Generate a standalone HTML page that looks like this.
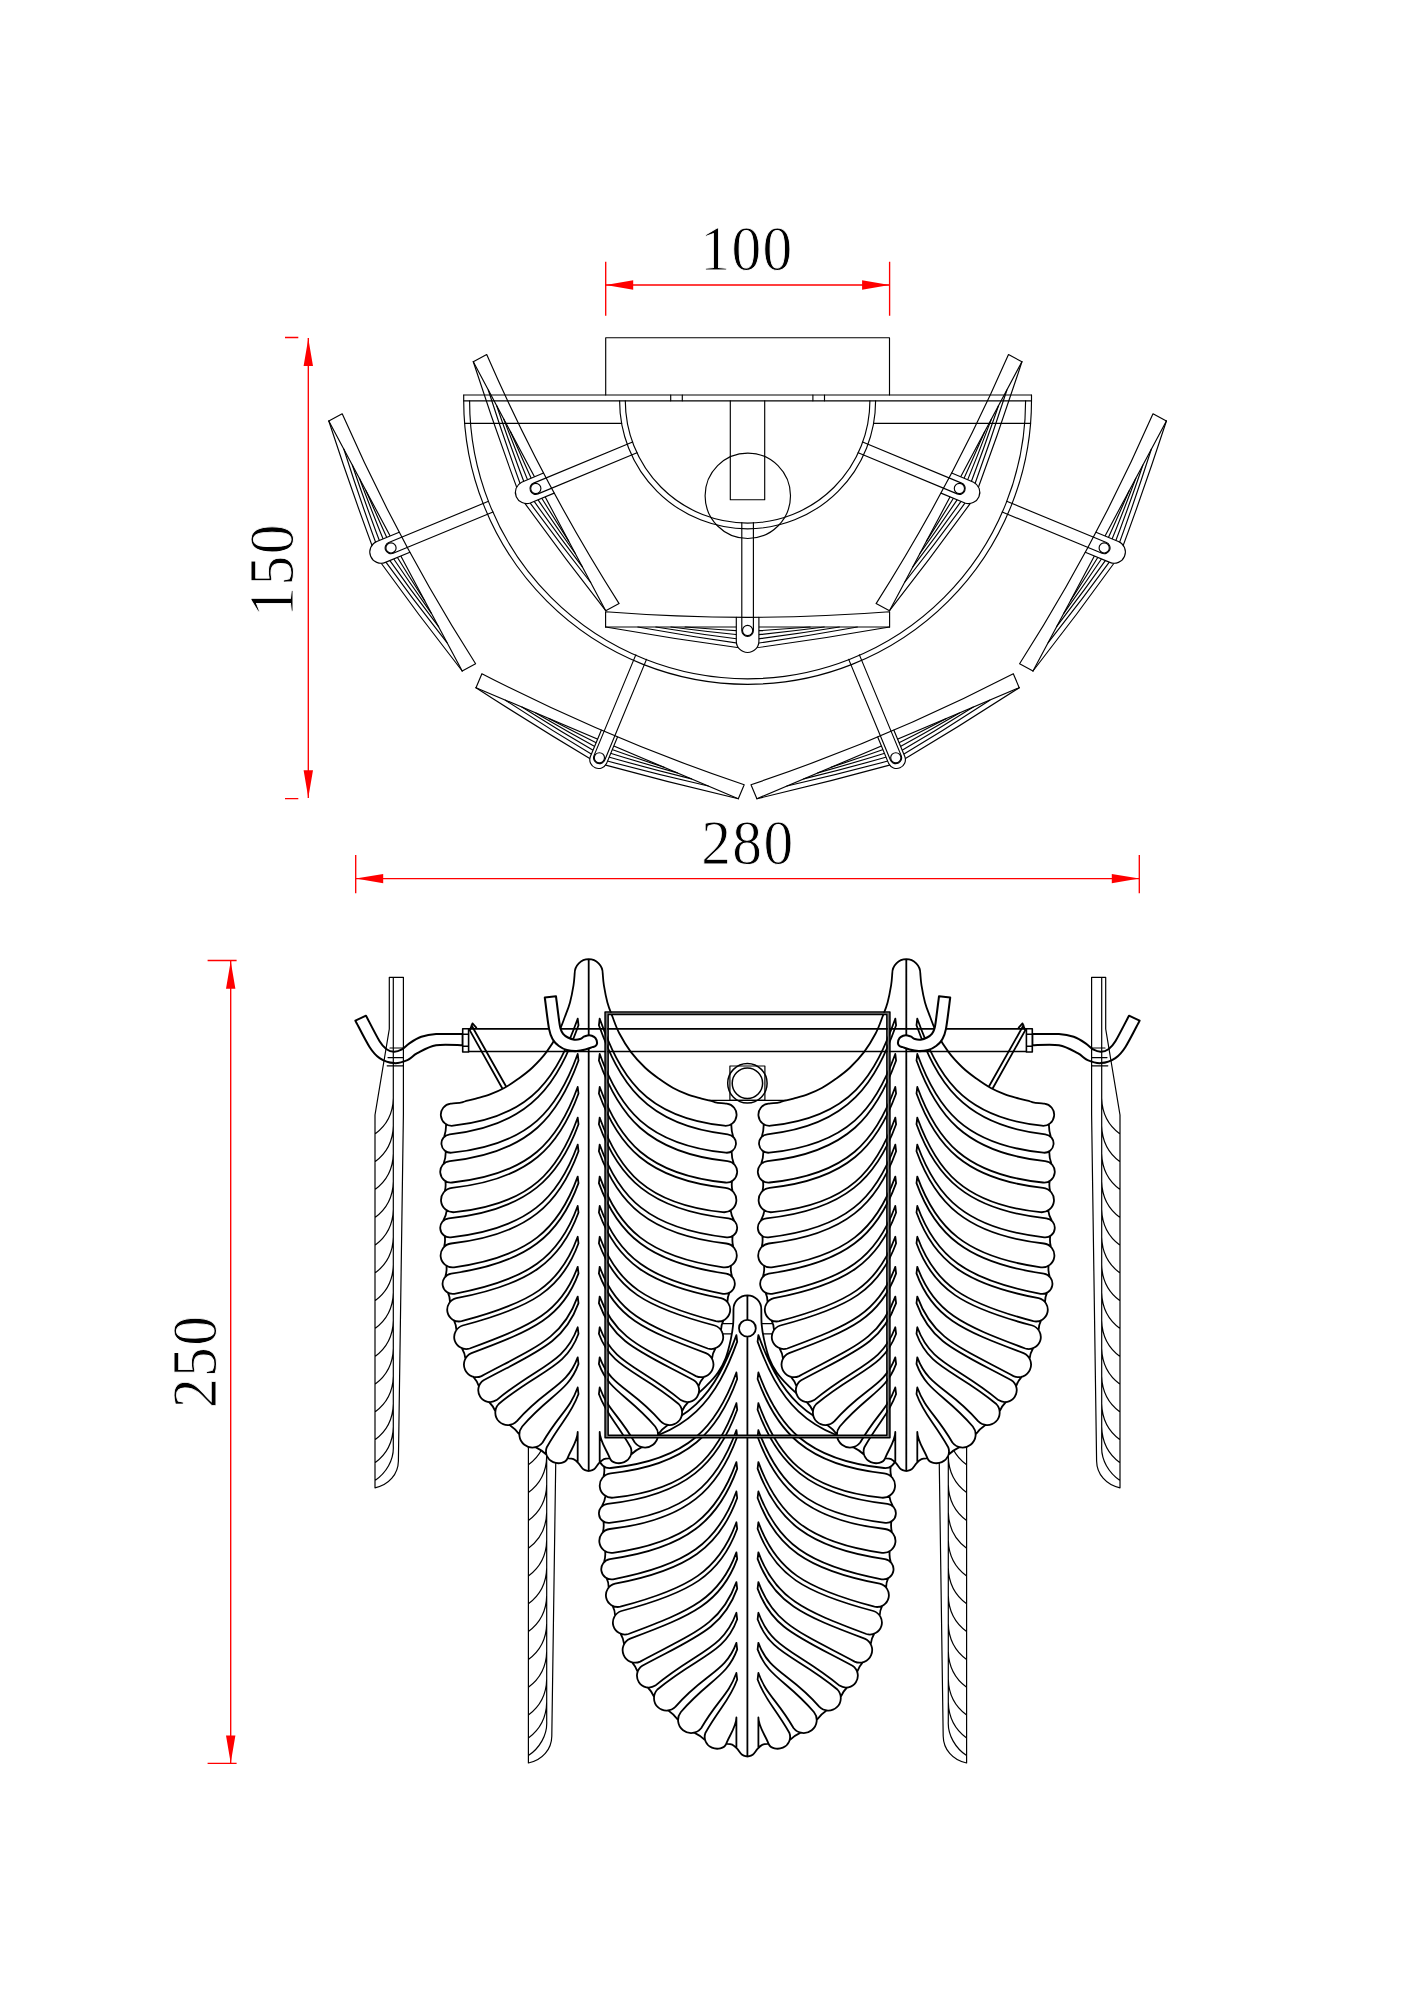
<!DOCTYPE html>
<html lang="en"><head><meta charset="utf-8"><title>Wall lamp drawing</title>
<style>html,body{margin:0;padding:0;background:#fff}svg{display:block}</style></head>
<body>
<svg width="1413" height="2000" viewBox="0 0 1413 2000">
<rect width="1413" height="2000" fill="#fff"/>
<g stroke="#000" stroke-width="1.15" stroke-linejoin="round" stroke-linecap="round">
<path d="M366 490.8Q378.5 519.4 391.4 547.7Q407.8 574.4 424.7 600.8M359.4 478.3Q372.9 514.3 387.5 549.8Q408.9 581.8 431.4 613.3M352.3 465Q367.2 508.9 383.6 551.8Q410.3 589.7 438.6 626.7M343.9 449.2Q360.8 502.1 379.8 553.9Q412.3 598.8 447 642.6M328.8 421Q351 489.2 375.9 556Q417.7 614.2 462.2 671" fill="none"/>
<path d="M328.8 421L462.2 671" fill="none"/>
<path d="M399.2 532.3L376.8 541.5A11.3 11.3 0 0 0 385.4 562.4L409.9 552.3" fill="#fff"/>
<path d="M328.8 421L342.2 413.8Q399.2 544 475.6 663.8L462.2 671" fill="none"/>
<path d="M488.5 501.3L388.8 542.5A5.8 5.8 0 0 0 393.2 553.3L493 512" fill="none"/>
<path d="M396.1 547.9A5.1 5.1 0 1 0 385.9 547.9A5.1 5.1 0 1 0 396.1 547.9" fill="none"/>
<path d="M1129.2 490.8Q1116.7 519.4 1103.8 547.7Q1087.4 574.4 1070.5 600.8M1135.8 478.3Q1122.3 514.3 1107.7 549.8Q1086.3 581.8 1063.8 613.3M1142.9 465Q1128 508.9 1111.6 551.8Q1084.9 589.7 1056.6 626.7M1151.3 449.2Q1134.4 502.1 1115.4 553.9Q1082.9 598.8 1048.2 642.6M1166.4 421Q1144.2 489.2 1119.3 556Q1077.5 614.2 1033 671" fill="none"/>
<path d="M1166.4 421L1033 671" fill="none"/>
<path d="M1085.3 552.3L1109.8 562.4A11.3 11.3 0 0 0 1118.4 541.5L1096 532.3" fill="#fff"/>
<path d="M1166.4 421L1153 413.8Q1096 544 1019.6 663.8L1033 671" fill="none"/>
<path d="M1002.2 512L1102 553.3A5.8 5.8 0 0 0 1106.4 542.5L1006.7 501.3" fill="none"/>
<path d="M1109.3 547.9A5.1 5.1 0 1 0 1099.1 547.9A5.1 5.1 0 1 0 1109.3 547.9" fill="none"/>
<path d="M510.4 431.6Q522.8 460.2 535.8 488.5Q552 515 568.7 541.1M503.8 419.1Q517.3 455.1 531.9 490.6Q553.1 522.4 575.3 553.5M496.7 405.8Q511.6 449.6 528 492.7Q554.4 530.2 582.4 566.8M488.3 390Q505.2 442.9 524.1 494.7Q556.4 539.2 590.7 582.5M473.3 361.7Q495.4 429.9 520.2 496.8Q561.6 554.4 605.7 610.7" fill="none"/>
<path d="M473.3 361.7L605.7 610.7" fill="none"/>
<path d="M543.5 473L521.6 482.2A11.3 11.3 0 0 0 530.3 503L554.2 493.1" fill="#fff"/>
<path d="M473.3 361.7L486.7 354.6Q543.2 484.2 619.1 603.6L605.7 610.7" fill="none"/>
<path d="M632.6 442L533.6 483.1A5.8 5.8 0 0 0 538 493.9L637 452.7" fill="none"/>
<path d="M540.9 488.5A5.1 5.1 0 1 0 530.7 488.5A5.1 5.1 0 1 0 540.9 488.5" fill="none"/>
<path d="M984.8 431.6Q972.4 460.2 959.4 488.5Q943.2 515 926.5 541.1M991.4 419.1Q977.9 455.1 963.3 490.6Q942.1 522.4 919.9 553.5M998.5 405.8Q983.6 449.6 967.2 492.7Q940.8 530.2 912.8 566.8M1006.9 390Q990 442.9 971.1 494.7Q938.8 539.2 904.5 582.5M1021.9 361.7Q999.8 429.9 975 496.8Q933.6 554.4 889.5 610.7" fill="none"/>
<path d="M1021.9 361.7L889.5 610.7" fill="none"/>
<path d="M941 493.1L964.9 503A11.3 11.3 0 0 0 973.6 482.2L951.7 473" fill="#fff"/>
<path d="M1021.9 361.7L1008.5 354.6Q952 484.2 876.1 603.6L889.5 610.7" fill="none"/>
<path d="M858.2 452.7L957.2 493.9A5.8 5.8 0 0 0 961.6 483.1L862.6 442" fill="none"/>
<path d="M964.5 488.5A5.1 5.1 0 1 0 954.3 488.5A5.1 5.1 0 1 0 964.5 488.5" fill="none"/>
<path d="M548.7 718.5Q576.3 732.9 604.1 746.7Q634 757.3 664.1 767.3M535.7 713Q568.8 732.4 602.4 750.7Q639.6 762.4 677.4 772.9M521.9 707.1Q560.9 731.8 600.7 754.8Q645.7 767.7 691.5 778.9M505.4 700.2Q551.7 730.6 599 758.8Q653.1 773.5 708.3 786M476 687.7Q536 726.7 597.2 762.9Q667.2 782.2 738.3 798.7" fill="none"/>
<path d="M476 687.7L738.3 798.7" fill="none"/>
<path d="M601.3 730.2L590.3 756.8A8.8 8.8 0 0 0 606.5 763.6L617.5 737" fill="#fff"/>
<path d="M476 687.7L481.9 673.7Q608.8 739.3 744.2 784.7L738.3 798.7" fill="none"/>
<path d="M635.8 654.9L594 755.6A5.8 5.8 0 0 0 604.8 760L646.5 659.4" fill="none"/>
<path d="M604.5 757.8A5.1 5.1 0 1 0 594.3 757.8A5.1 5.1 0 1 0 604.5 757.8" fill="none"/>
<path d="M946.5 718.5Q918.9 732.9 891.1 746.7Q861.2 757.3 831.1 767.3M959.5 713Q926.4 732.4 892.8 750.7Q855.6 762.4 817.8 772.9M973.3 707.1Q934.3 731.8 894.5 754.8Q849.5 767.7 803.7 778.9M989.8 700.2Q943.5 730.6 896.2 758.8Q842.1 773.5 786.9 786M1019.2 687.7Q959.2 726.7 898 762.9Q828 782.2 756.9 798.7" fill="none"/>
<path d="M1019.2 687.7L756.9 798.7" fill="none"/>
<path d="M877.7 737L888.7 763.6A8.8 8.8 0 0 0 904.9 756.8L893.9 730.2" fill="#fff"/>
<path d="M1019.2 687.7L1013.3 673.7Q886.4 739.3 751 784.7L756.9 798.7" fill="none"/>
<path d="M848.7 659.4L890.4 760A5.8 5.8 0 0 0 901.2 755.6L859.4 654.9" fill="none"/>
<path d="M900.9 757.8A5.1 5.1 0 1 0 890.7 757.8A5.1 5.1 0 1 0 900.9 757.8" fill="none"/>
<path d="M685.1 627Q716.4 629.5 747.6 631.4Q778.8 629.5 810.1 627M670.9 627Q709.3 632 747.6 635.8Q785.9 632 824.3 627M655.8 627Q701.7 634.5 747.6 640.2Q793.5 634.5 839.4 627M637.8 627Q692.7 637 747.6 644.6Q802.5 637 857.4 627M605.6 627Q676.6 639.5 747.6 649Q818.6 639.5 889.6 627" fill="none"/>
<path d="M605.6 627L889.6 627" fill="none"/>
<path d="M736.3 617.3L736.3 641.2A11.3 11.3 0 0 0 758.9 641.2L758.9 617.3" fill="#fff"/>
<path d="M605.6 627L605.6 611.8Q747.6 622.8 889.6 611.8L889.6 627" fill="none"/>
<path d="M741.8 522.6L741.8 630.5A5.8 5.8 0 0 0 753.4 630.5L753.4 522.6" fill="none"/>
<path d="M752.7 630.5A5.1 5.1 0 1 0 742.5 630.5A5.1 5.1 0 1 0 752.7 630.5" fill="none"/>
<path d="M605.7 395V337.7H889.5V395" fill="none"/>
<path d="M463.7 395H1031.5M463.7 400.8H1031.5" fill="none"/>
<path d="M463.7 395V400.4A283.9 283.9 0 0 0 1031.5 400.4V395" fill="none"/>
<path d="M469.6 400.8A278 278 0 0 0 1025.6 400.8" fill="none"/>
<path d="M464.6 423.3H621.7M873.5 423.3H1030.6" fill="none"/>
<path d="M619.6 400.8A128 128 0 0 0 875.6 400.8M625.3 400.8A122.3 122.3 0 0 0 869.9 400.8" fill="none"/>
<path d="M670.7 395V400.8M682.3 395V400.8M812.9 395V400.8M824.5 395V400.8" fill="none"/>
<path d="M730.3 400.8V499.7H764.7V400.8" fill="none"/>
<path d="M790.5 495.8A42.7 42.7 0 1 0 705.1 495.8A42.7 42.7 0 1 0 790.5 495.8" fill="none"/>
</g>
<g stroke="#000" stroke-width="1.8" stroke-linejoin="round" stroke-linecap="round">
<path d="M471.5 1025.3L507.5 1089M469.8 1030.4L503.5 1090.5M469.8 1030.4L472.5 1023.4L476.3 1027.6" fill="none"/>
<path d="M471.5 1025.3L507.5 1089M469.8 1030.4L503.5 1090.5M469.8 1030.4L472.5 1023.4L476.3 1027.6" fill="none" transform="translate(1495,0) scale(-1,1)"/>
<path d="M712 1323.6H783M712 1333.8H783M708.9 1100.3H786.1" fill="none" stroke-width="1.3"/>
<path d="M542.7 1252.5H556.8M556.8 1252.5V1389.2L551.8 1736.2C551.6 1749.2 542.4 1760.2 528.4 1763M546.7 1252.5V1721.2C547.5 1735.2 539.4 1748.2 528.4 1755.6M542.7 1252.5V1304.2L528.4 1390.2V1763M546.7 1373.2Q546.2 1396.2 528.4 1409.2M546.7 1401Q546.2 1424 528.4 1437M546.7 1428.8Q546.2 1451.8 528.4 1464.8M546.7 1456.6Q546.2 1479.6 528.4 1492.6M546.7 1484.4Q546.2 1507.4 528.4 1520.4M546.7 1512.2Q546.2 1535.2 528.4 1548.2M546.7 1540Q546.2 1563 528.4 1576M546.7 1567.8Q546.2 1590.8 528.4 1603.8M546.7 1595.6Q546.2 1618.6 528.4 1631.6M546.7 1623.4Q546.2 1646.4 528.4 1659.4M546.7 1651.2Q546.2 1674.2 528.4 1687.2M546.7 1679Q546.2 1702 528.4 1715M546.7 1702Q546.2 1725 528.4 1738" fill="none" stroke-width="1.2"/>
<path d="M542.7 1252.5H556.8M556.8 1252.5V1389.2L551.8 1736.2C551.6 1749.2 542.4 1760.2 528.4 1763M546.7 1252.5V1721.2C547.5 1735.2 539.4 1748.2 528.4 1755.6M542.7 1252.5V1304.2L528.4 1390.2V1763M546.7 1373.2Q546.2 1396.2 528.4 1409.2M546.7 1401Q546.2 1424 528.4 1437M546.7 1428.8Q546.2 1451.8 528.4 1464.8M546.7 1456.6Q546.2 1479.6 528.4 1492.6M546.7 1484.4Q546.2 1507.4 528.4 1520.4M546.7 1512.2Q546.2 1535.2 528.4 1548.2M546.7 1540Q546.2 1563 528.4 1576M546.7 1567.8Q546.2 1590.8 528.4 1603.8M546.7 1595.6Q546.2 1618.6 528.4 1631.6M546.7 1623.4Q546.2 1646.4 528.4 1659.4M546.7 1651.2Q546.2 1674.2 528.4 1687.2M546.7 1679Q546.2 1702 528.4 1715M546.7 1702Q546.2 1725 528.4 1738" fill="none" stroke-width="1.2" transform="translate(1495,0) scale(-1,1)"/>
<path d="M733.5 1309.2L733.5 1309.3L733.5 1311L733.5 1313.4L733.4 1316.2L733.4 1319.2L733.3 1322.2L733.1 1324.9L732.9 1327.3L732.6 1329.7L732.2 1332L731.8 1334.3L731.4 1336.8L730.8 1339.4L730.1 1342.3L729.4 1345.4L728.6 1348.7L727.7 1352L726.7 1355.1L725.7 1358L724.6 1360.7L723.4 1363.2L722.2 1365.6L720.9 1368L719.5 1370.2L718 1372.5L716.4 1374.7L714.6 1377L712.7 1379.1L710.8 1381.2L708.9 1383.2L707 1385.2L705.2 1387.1L703.4 1388.8L701.6 1390.5L699.8 1392.1L697.7 1393.8L695.4 1395.5L692.9 1397.3L690.1 1399.1L687.2 1400.9L684.2 1402.7L680.9 1404.4L677.4 1406L673.6 1407.5L669.6 1409L665.3 1410.4L661 1411.7L656.6 1412.9L652.4 1414L648 1415L643.5 1415.9L638.9 1416.7L634.6 1417.4L630.6 1418L627.4 1418.5L625 1418.8L623.2 1418.9L621.9 1418.8L620.9 1418.7L619.7 1418.7L618.4 1418.7L616.7 1418.8L614.8 1419L612.8 1419.2L611 1419.4L609.5 1419.6L608.4 1419.8L608.4 1419.8L605.7 1420.5L603.2 1422L601.4 1424.2L600.3 1426.9L600.1 1429.8L600.8 1432.6L602.3 1435L604.5 1436.9L602.2 1449.5L600.6 1451.4L599.6 1453.6L599 1456L599 1458.4L599.5 1460.8L600.5 1463L602.1 1464.9L604 1466.5L603.5 1476.7L601.7 1478.8L600.4 1481.3L599.8 1484L599.8 1486.8L600.4 1489.5L601.6 1492L603.3 1494.2L605.5 1495.9L601.8 1506.4L600.4 1508.1L599.5 1510L599 1512.1L599 1514.3L599.4 1516.4L600.4 1518.4L601.7 1520.1L603.4 1521.4L602.8 1532.4L601.1 1534.5L600 1537L599.4 1539.6L599.4 1542.4L600 1545L601.2 1547.4L603 1549.5L605.1 1551.2L604 1562.2L602.7 1564.1L601.7 1566.2L601.3 1568.5L601.4 1570.8L602 1573L603.1 1575.1L604.7 1576.8L606.6 1578.1L608.6 1587.7L607.1 1589.9L606.2 1592.4L605.9 1595.1L606.2 1597.8L607 1600.3L608.5 1602.5L610.4 1604.4L612.6 1605.9L615.1 1615.6L613.8 1618L613 1620.6L612.9 1623.3L613.4 1626L614.5 1628.5L616.1 1630.7L618.2 1632.4L620.6 1633.7L624.1 1644.1L623.1 1646.8L622.6 1649.6L622.8 1652.4L623.7 1655.1L625.1 1657.6L627 1659.7L629.4 1661.3L632.1 1662.3L637.6 1671.8L637 1674.5L637 1677.1L637.7 1679.8L638.9 1682.2L640.6 1684.2L642.7 1685.9L645.1 1687L647.8 1687.5L654.1 1696.9L654.1 1699.7L654.8 1702.5L656.1 1705L657.9 1707.2L660.2 1708.9L662.7 1710L665.5 1710.6L668.3 1710.5L678.1 1720L678.4 1722.9L679.4 1725.7L681 1728.2L683.1 1730.2L685.6 1731.8L688.4 1732.7L691.3 1733L694.2 1732.6L705.1 1740.2L706.4 1743.1L708.5 1745.5L711.1 1747.3L714.1 1748.3L717.3 1748.4L720.4 1747.7L723.1 1746.2L725.4 1743.9L726.2 1743.9L726.2 1743.9L727.3 1744L728.9 1744L730.6 1744.2L732.2 1744.7L733.5 1745.5L734.8 1746.5L736.1 1747.7L737.3 1748.9L738.5 1750.4L739.7 1752L740.9 1753.6L742.1 1754.8L743.5 1755.6L745 1756L746.4 1756.3L747.4 1756.5L747.4 1756.5L748.4 1756.3L749.8 1756L751.3 1755.6L752.7 1754.8L753.9 1753.6L755.1 1752L756.3 1750.4L757.5 1748.9L758.7 1747.7L760 1746.5L761.3 1745.5L762.6 1744.7L764.2 1744.2L765.9 1744L767.5 1744L768.6 1743.9L768.6 1743.9L769.4 1743.9L771.7 1746.2L774.4 1747.7L777.5 1748.4L780.7 1748.3L783.7 1747.3L786.3 1745.5L788.4 1743.1L789.7 1740.2L800.6 1732.6L803.5 1733L806.4 1732.7L809.2 1731.8L811.7 1730.2L813.8 1728.2L815.4 1725.7L816.4 1722.9L816.7 1720L826.5 1710.5L829.3 1710.6L832.1 1710L834.6 1708.9L836.9 1707.2L838.7 1705L840 1702.5L840.7 1699.7L840.7 1696.9L847 1687.5L849.7 1687L852.1 1685.9L854.2 1684.2L855.9 1682.2L857.1 1679.8L857.8 1677.1L857.8 1674.5L857.2 1671.8L862.7 1662.3L865.4 1661.3L867.8 1659.7L869.7 1657.6L871.1 1655.1L872 1652.4L872.2 1649.6L871.7 1646.8L870.7 1644.1L874.2 1633.7L876.6 1632.4L878.7 1630.7L880.3 1628.5L881.4 1626L881.9 1623.3L881.8 1620.6L881 1618L879.7 1615.6L882.2 1605.9L884.4 1604.4L886.3 1602.5L887.8 1600.3L888.6 1597.8L888.9 1595.1L888.6 1592.4L887.7 1589.9L886.2 1587.7L888.2 1578.1L890.1 1576.8L891.7 1575.1L892.8 1573L893.4 1570.8L893.5 1568.5L893.1 1566.2L892.1 1564.1L890.8 1562.2L889.7 1551.2L891.8 1549.5L893.6 1547.4L894.8 1545L895.4 1542.4L895.4 1539.6L894.8 1537L893.7 1534.5L892 1532.4L891.4 1521.4L893.1 1520.1L894.4 1518.4L895.4 1516.4L895.8 1514.3L895.8 1512.1L895.3 1510L894.4 1508.1L893 1506.4L889.3 1495.9L891.5 1494.2L893.2 1492L894.4 1489.5L895 1486.8L895 1484L894.4 1481.3L893.1 1478.8L891.3 1476.7L890.8 1466.5L892.7 1464.9L894.3 1463L895.3 1460.8L895.8 1458.4L895.8 1456L895.2 1453.6L894.2 1451.4L892.6 1449.5L890.3 1436.9L892.5 1435L894 1432.6L894.7 1429.8L894.5 1426.9L893.4 1424.2L891.6 1422L889.1 1420.5L886.4 1419.8L886.4 1419.8L885.3 1419.6L883.8 1419.4L882 1419.2L880 1419L878.1 1418.8L876.4 1418.7L875.1 1418.7L873.9 1418.7L872.9 1418.8L871.6 1418.9L869.8 1418.8L867.4 1418.5L864.2 1418L860.2 1417.4L855.9 1416.7L851.3 1415.9L846.8 1415L842.4 1414L838.2 1412.9L833.8 1411.7L829.5 1410.4L825.2 1409L821.2 1407.5L817.4 1406L813.9 1404.4L810.6 1402.7L807.6 1400.9L804.7 1399.1L801.9 1397.3L799.4 1395.5L797.1 1393.8L795 1392.1L793.2 1390.5L791.4 1388.8L789.6 1387.1L787.8 1385.2L785.9 1383.2L784 1381.2L782.1 1379.1L780.2 1377L778.4 1374.7L776.8 1372.5L775.3 1370.2L773.9 1368L772.6 1365.6L771.4 1363.2L770.2 1360.7L769.1 1358L768.1 1355.1L767.1 1352L766.2 1348.7L765.4 1345.4L764.7 1342.3L764 1339.4L763.4 1336.8L763 1334.3L762.6 1332L762.2 1329.7L761.9 1327.3L761.7 1324.9L761.5 1322.2L761.4 1319.2L761.4 1316.2L761.3 1313.4L761.3 1311L761.3 1309.3L761.3 1309.2A13.9 13.9 0 0 0 733.5 1309.2Z" fill="#fff" stroke="none"/>
<path d="M733.5 1309.3C733.4 1311.9 733.6 1319.9 733.1 1324.9C732.6 1329.9 732 1333.9 730.8 1339.4C729.6 1344.9 727.8 1352.5 725.7 1358C723.6 1363.5 721.1 1368 718 1372.5C714.9 1377 710.8 1381.4 707 1385.2C703.2 1389 700.3 1392 695.4 1395.5C690.5 1399 684.6 1402.9 677.4 1406C670.2 1409.1 660.7 1411.9 652.4 1414C644.1 1416.1 633.1 1417.7 627.4 1418.5C621.7 1419.3 621.5 1418.5 618.4 1418.7C615.2 1418.9 610.1 1419.6 608.4 1419.8C603.3 1420.3 599.6 1424.9 600.2 1430C600.7 1435.1 605.3 1438.8 610.4 1438.2C691.4 1429.7 716.3 1390.2 736.4 1335.1M736.4 1335.1C736.7 1337.3 736.9 1339.4 737.2 1341.6C717.3 1396.2 691.1 1437.9 608.6 1446.6C602.6 1447.2 598.3 1452.5 599 1458.4C599.6 1464.4 604.9 1468.7 610.8 1468C689.3 1459.8 717 1425.9 736.4 1372.5M736.4 1372.5C736.7 1374.7 736.9 1376.8 737.2 1379C718.3 1430.9 689.2 1465 610.7 1473.3C604 1474 599.1 1480 599.8 1486.8C600.5 1493.5 606.5 1498.4 613.3 1497.7C690.5 1489.6 717.3 1455.7 736.4 1403.2M736.4 1403.2C736.7 1405.4 736.9 1407.5 737.2 1409.7C718 1462.4 687.2 1495.4 607.5 1503.8C602.2 1504.3 598.4 1509 599 1514.3C599.5 1519.6 604.2 1523.4 609.5 1522.8C687.6 1514 717.1 1483.4 736.4 1430.2M736.4 1430.2C736.7 1432.4 736.9 1434.5 737.2 1436.7C718.4 1488.4 688 1520.1 609.8 1529C603.3 1529.8 598.6 1535.8 599.4 1542.4C600.2 1548.9 606.2 1553.6 612.8 1552.8C688.7 1542.1 717.5 1514 736.4 1462.1M736.4 1462.1C736.7 1464.3 736.9 1466.4 737.2 1468.6C718.5 1520 687.2 1548.3 609.9 1559.1C604.3 1560 600.5 1565.2 601.4 1570.8C602.3 1576.4 607.5 1580.2 613.1 1579.3C687.4 1565.2 717.8 1542.7 736.4 1491.5M736.4 1491.5C736.7 1493.7 736.9 1495.8 737.2 1498C719.3 1547 688.4 1569.8 615.1 1583.7C608.8 1585.1 604.8 1591.4 606.2 1597.8C607.6 1604.1 613.9 1608.1 620.3 1606.7C689.7 1588.4 718.7 1570.9 736.4 1522.3M736.4 1522.3C736.7 1524.5 736.9 1526.6 737.2 1528.8C720.2 1575.5 690.1 1592.9 621.4 1611C615.1 1613 611.5 1619.7 613.4 1626C615.4 1632.3 622.1 1635.9 628.4 1634C691.9 1610.5 719.7 1598.2 736.4 1552.4M736.4 1552.4C736.7 1554.6 736.9 1556.7 737.2 1558.9C721.2 1602.8 692.7 1615.4 630.2 1638.6C623.8 1641.3 620.9 1648.8 623.7 1655.1C626.4 1661.5 633.9 1664.4 640.2 1661.6C695.2 1632.1 721 1624.3 736.4 1582.1M736.4 1582.1C736.7 1584.3 736.9 1586.4 737.2 1588.6C722.6 1628.8 696.2 1636.8 642.3 1665.8C636.9 1669.3 635.3 1676.7 638.9 1682.2C642.4 1687.6 649.8 1689.2 655.3 1685.6C697.2 1650.8 723 1649.7 736.4 1612.8M736.4 1612.8C736.7 1615 736.9 1617.1 737.2 1619.3C724.5 1654.2 698.3 1655.5 657.4 1689.5C652.7 1694.5 652.9 1702.4 657.9 1707.2C662.9 1711.9 670.8 1711.7 675.6 1706.7C704.3 1673.3 725.5 1672.7 736.4 1642.9M736.4 1642.9C736.7 1645.1 736.9 1647.2 737.2 1649.4C727.1 1677.1 708.3 1680.1 680.9 1712C676.4 1717.7 677.4 1725.8 683.1 1730.2C688.8 1734.7 696.9 1733.7 701.3 1728C717.7 1699.8 728.4 1695.1 736.4 1673M736.4 1673C736.7 1675.2 736.9 1677.3 737.2 1679.5C729.8 1699.9 721 1705.9 705.5 1732.7C703.2 1738.6 706 1745.3 711.9 1747.7C717.2 1749.8 724.4 1748.6 726.2 1743.9C729.2 1735.9 736.4 1726.5 736.4 1717.5M604.5 1436.9Q604.5 1443.1 602.2 1449.5M604 1466.5Q604.9 1471.4 603.5 1476.7M605.5 1495.9Q604.9 1501 601.8 1506.4M603.4 1521.4Q604.3 1526.8 602.8 1532.4M605.1 1551.2Q605.8 1556.5 604 1562.2M606.6 1578.1Q608.8 1582.7 608.6 1587.7M612.6 1605.9Q615 1610.4 615.1 1615.6M620.6 1633.7Q623.5 1638.5 624.1 1644.1M632.1 1662.3Q635.9 1666.5 637.6 1671.8M647.8 1687.5Q651.8 1691.4 654.1 1696.9M668.3 1710.5Q674 1714.3 678.1 1720M694.2 1732.6Q700.3 1735.4 705.1 1740.2M726.2 1743.9C727.2 1744 730.3 1743.9 732.2 1744.7C734 1745.5 735.6 1747.2 737.3 1748.9C738.9 1750.6 740.4 1753.5 742.1 1754.8C743.8 1756.1 746.5 1756.2 747.4 1756.5M736.4 1717.5V1747M761.3 1309.3C761.4 1311.9 761.2 1319.9 761.7 1324.9C762.1 1329.9 762.8 1333.9 764 1339.4C765.2 1344.9 767 1352.5 769.1 1358C771.2 1363.5 773.7 1368 776.8 1372.5C779.9 1377 784 1381.4 787.8 1385.2C791.6 1389 794.5 1392 799.4 1395.5C804.3 1399 810.2 1402.9 817.4 1406C824.6 1409.1 834.1 1411.9 842.4 1414C850.7 1416.1 861.7 1417.7 867.4 1418.5C873.1 1419.3 873.3 1418.5 876.4 1418.7C879.6 1418.9 884.7 1419.6 886.4 1419.8C891.5 1420.3 895.2 1424.9 894.6 1430C894.1 1435.1 889.5 1438.8 884.4 1438.2C803.4 1429.7 778.5 1390.2 758.4 1335.1M758.4 1335.1C758.1 1337.3 757.9 1339.4 757.6 1341.6C777.5 1396.2 803.7 1437.9 886.2 1446.6C892.2 1447.2 896.5 1452.5 895.8 1458.4C895.2 1464.4 889.9 1468.7 884 1468C805.5 1459.8 777.8 1425.9 758.4 1372.5M758.4 1372.5C758.1 1374.7 757.9 1376.8 757.6 1379C776.5 1430.9 805.6 1465 884.1 1473.3C890.8 1474 895.7 1480 895 1486.8C894.3 1493.5 888.3 1498.4 881.5 1497.7C804.3 1489.6 777.5 1455.7 758.4 1403.2M758.4 1403.2C758.1 1405.4 757.9 1407.5 757.6 1409.7C776.8 1462.4 807.6 1495.4 887.3 1503.8C892.6 1504.3 896.4 1509 895.8 1514.3C895.3 1519.6 890.6 1523.4 885.3 1522.8C807.2 1514 777.7 1483.4 758.4 1430.2M758.4 1430.2C758.1 1432.4 757.9 1434.5 757.6 1436.7C776.4 1488.4 806.8 1520.1 885 1529C891.5 1529.8 896.2 1535.8 895.4 1542.4C894.6 1548.9 888.6 1553.6 882 1552.8C806.1 1542.1 777.3 1514 758.4 1462.1M758.4 1462.1C758.1 1464.3 757.9 1466.4 757.6 1468.6C776.3 1520 807.6 1548.3 884.9 1559.1C890.5 1560 894.3 1565.2 893.4 1570.8C892.5 1576.4 887.3 1580.2 881.7 1579.3C807.4 1565.2 777 1542.7 758.4 1491.5M758.4 1491.5C758.1 1493.7 757.9 1495.8 757.6 1498C775.5 1547 806.4 1569.8 879.7 1583.7C886 1585.1 890 1591.4 888.6 1597.8C887.2 1604.1 880.9 1608.1 874.5 1606.7C805.1 1588.4 776.1 1570.9 758.4 1522.3M758.4 1522.3C758.1 1524.5 757.9 1526.6 757.6 1528.8C774.6 1575.5 804.7 1592.9 873.4 1611C879.7 1613 883.3 1619.7 881.4 1626C879.4 1632.3 872.7 1635.9 866.4 1634C802.9 1610.5 775.1 1598.2 758.4 1552.4M758.4 1552.4C758.1 1554.6 757.9 1556.7 757.6 1558.9C773.6 1602.8 802.1 1615.4 864.6 1638.6C871 1641.3 873.9 1648.8 871.1 1655.1C868.4 1661.5 860.9 1664.4 854.6 1661.6C799.6 1632.1 773.8 1624.3 758.4 1582.1M758.4 1582.1C758.1 1584.3 757.9 1586.4 757.6 1588.6C772.2 1628.8 798.6 1636.8 852.5 1665.8C857.9 1669.3 859.5 1676.7 855.9 1682.2C852.4 1687.6 845 1689.2 839.5 1685.6C797.6 1650.8 771.8 1649.7 758.4 1612.8M758.4 1612.8C758.1 1615 757.9 1617.1 757.6 1619.3C770.3 1654.2 796.5 1655.5 837.4 1689.5C842.1 1694.5 841.9 1702.4 836.9 1707.2C831.9 1711.9 824 1711.7 819.2 1706.7C790.5 1673.3 769.3 1672.7 758.4 1642.9M758.4 1642.9C758.1 1645.1 757.9 1647.2 757.6 1649.4C767.7 1677.1 786.5 1680.1 813.9 1712C818.4 1717.7 817.4 1725.8 811.7 1730.2C806 1734.7 797.9 1733.7 793.5 1728C777.1 1699.8 766.4 1695.1 758.4 1673M758.4 1673C758.1 1675.2 757.9 1677.3 757.6 1679.5C765 1699.9 773.8 1705.9 789.3 1732.7C791.6 1738.6 788.8 1745.3 782.9 1747.7C777.6 1749.8 770.4 1748.6 768.6 1743.9C765.6 1735.9 758.4 1726.5 758.4 1717.5M890.3 1436.9Q890.3 1443.1 892.6 1449.5M890.8 1466.5Q889.9 1471.4 891.3 1476.7M889.3 1495.9Q889.9 1501 893 1506.4M891.4 1521.4Q890.5 1526.8 892 1532.4M889.7 1551.2Q889 1556.5 890.8 1562.2M888.2 1578.1Q886 1582.7 886.2 1587.7M882.2 1605.9Q879.8 1610.4 879.7 1615.6M874.2 1633.7Q871.3 1638.5 870.7 1644.1M862.7 1662.3Q858.9 1666.5 857.2 1671.8M847 1687.5Q843 1691.4 840.7 1696.9M826.5 1710.5Q820.8 1714.3 816.7 1720M800.6 1732.6Q794.5 1735.4 789.7 1740.2M768.6 1743.9C767.6 1744 764.5 1743.9 762.6 1744.7C760.8 1745.5 759.1 1747.2 757.5 1748.9C755.9 1750.6 754.4 1753.5 752.7 1754.8C751 1756.1 748.3 1756.2 747.4 1756.5M758.4 1717.5V1747M733.5 1309.3V1309.2A13.9 13.9 0 0 1 761.3 1309.2V1309.3M747.4 1295.3V1319.8M747.4 1336.6V1756.5M755.8 1328.2A8.4 8.4 0 1 0 739 1328.2A8.4 8.4 0 1 0 755.8 1328.2" fill="none"/>
<path d="M574.7 973.2L574.7 973.2L574.6 974.5L574.5 976.2L574.3 978.2L574.1 980.5L573.8 982.9L573.5 985.4L573.1 988L572.6 990.8L572 993.8L571.4 996.8L570.7 999.7L570 1002.4L569.3 1004.9L568.5 1007.2L567.7 1009.5L566.9 1011.7L566 1014L565 1016.5L564 1019.1L563 1021.9L561.9 1024.7L560.7 1027.6L559.4 1030.6L558 1033.5L556.4 1036.5L554.6 1039.6L552.7 1042.8L550.8 1045.9L548.7 1049L546.6 1051.9L544.4 1054.7L542.1 1057.5L539.7 1060.1L537.3 1062.7L534.9 1065.2L532.5 1067.5L530.1 1069.7L527.8 1071.7L525.4 1073.5L523 1075.3L520.7 1077.1L518.3 1078.8L515.9 1080.5L513.6 1082.1L511.2 1083.7L508.9 1085.2L506.6 1086.7L504.2 1088L501.8 1089.3L499.5 1090.4L497.1 1091.5L494.7 1092.5L492.4 1093.5L490 1094.4L487.6 1095.2L485.2 1096L482.8 1096.7L480.4 1097.4L478.1 1098L475.9 1098.6L473.8 1099.2L471.7 1099.7L469.7 1100.2L467.8 1100.7L466.1 1101.1L464.7 1101.5L463.7 1101.8L463 1102L462.6 1102.2L462.2 1102.3L461.6 1102.5L460.7 1102.6L459.3 1102.8L457.4 1103L455.5 1103.2L453.5 1103.4L451.9 1103.5L450.7 1103.7L450.7 1103.7L447.4 1104.5L444.5 1106.4L442.4 1109L441.1 1112.2L440.8 1115.6L441.6 1118.9L443.4 1121.9L446 1124.1L444.2 1136.8L442.9 1138.4L442 1140.3L441.5 1142.4L441.5 1144.5L441.9 1146.5L442.8 1148.4L444.1 1150.1L445.8 1151.4L443.5 1164L441.9 1165.9L440.9 1168.1L440.3 1170.5L440.3 1172.9L440.8 1175.3L441.8 1177.5L443.4 1179.4L445.3 1181L444.8 1191.2L443 1193.3L441.7 1195.8L441.1 1198.5L441.1 1201.3L441.7 1204L442.9 1206.5L444.6 1208.7L446.8 1210.4L443.1 1220.9L441.7 1222.6L440.8 1224.5L440.3 1226.6L440.3 1228.8L440.7 1230.9L441.7 1232.9L443 1234.6L444.7 1235.9L444.1 1246.9L442.4 1249L441.3 1251.5L440.7 1254.1L440.7 1256.9L441.3 1259.5L442.5 1261.9L444.3 1264L446.4 1265.7L445.3 1276.7L444 1278.6L443 1280.7L442.6 1283L442.7 1285.3L443.3 1287.5L444.4 1289.6L446 1291.3L447.9 1292.6L449.9 1302.2L448.4 1304.4L447.5 1306.9L447.2 1309.6L447.5 1312.3L448.3 1314.8L449.8 1317L451.7 1318.9L453.9 1320.4L456.4 1330.1L455.1 1332.5L454.3 1335.1L454.2 1337.8L454.7 1340.5L455.8 1343L457.4 1345.2L459.5 1346.9L461.9 1348.2L465.4 1358.6L464.4 1361.3L463.9 1364.1L464.1 1366.9L465 1369.6L466.4 1372.1L468.3 1374.2L470.7 1375.8L473.4 1376.8L478.9 1386.3L478.3 1389L478.3 1391.6L479 1394.3L480.2 1396.7L481.9 1398.7L484 1400.4L486.4 1401.5L489.1 1402L495.4 1411.4L495.4 1414.2L496.1 1417L497.4 1419.5L499.2 1421.7L501.5 1423.4L504 1424.5L506.8 1425.1L509.6 1425L519.4 1434.5L519.7 1437.4L520.7 1440.2L522.3 1442.7L524.4 1444.7L526.9 1446.3L529.7 1447.2L532.6 1447.5L535.5 1447.1L546.4 1454.7L547.7 1457.6L549.8 1460L552.4 1461.8L555.4 1462.8L558.6 1462.9L561.7 1462.2L564.4 1460.7L566.7 1458.4L567.5 1458.4L567.5 1458.4L568.6 1458.5L570.2 1458.5L571.9 1458.7L573.5 1459.2L574.8 1460L576.1 1461L577.4 1462.2L578.6 1463.4L579.8 1464.9L581 1466.5L582.2 1468.1L583.4 1469.3L584.8 1470.1L586.4 1470.5L587.7 1470.8L588.7 1471L588.7 1471L589.7 1470.8L591.1 1470.5L592.6 1470.1L594 1469.3L595.2 1468.1L596.4 1466.5L597.6 1464.9L598.8 1463.4L600 1462.2L601.3 1461L602.6 1460L603.9 1459.2L605.5 1458.7L607.2 1458.5L608.8 1458.5L609.9 1458.4L609.9 1458.4L610.7 1458.4L613 1460.7L615.7 1462.2L618.8 1462.9L622 1462.8L625 1461.8L627.6 1460L629.7 1457.6L631 1454.7L641.9 1447.1L644.8 1447.5L647.7 1447.2L650.5 1446.3L653 1444.7L655.1 1442.7L656.7 1440.2L657.7 1437.4L658 1434.5L667.8 1425L670.6 1425.1L673.4 1424.5L675.9 1423.4L678.2 1421.7L680 1419.5L681.3 1417L682 1414.2L682 1411.4L688.3 1402L691 1401.5L693.4 1400.4L695.5 1398.7L697.2 1396.7L698.4 1394.3L699.1 1391.6L699.1 1389L698.5 1386.3L704 1376.8L706.7 1375.8L709.1 1374.2L711 1372.1L712.4 1369.6L713.3 1366.9L713.5 1364.1L713 1361.3L712 1358.6L715.5 1348.2L717.9 1346.9L720 1345.2L721.6 1343L722.7 1340.5L723.2 1337.8L723.1 1335.1L722.3 1332.5L721 1330.1L723.5 1320.4L725.7 1318.9L727.6 1317L729.1 1314.8L729.9 1312.3L730.2 1309.6L729.9 1306.9L729 1304.4L727.5 1302.2L729.5 1292.6L731.4 1291.3L733 1289.6L734.1 1287.5L734.7 1285.3L734.8 1283L734.4 1280.7L733.4 1278.6L732.1 1276.7L731 1265.7L733.1 1264L734.9 1261.9L736.1 1259.5L736.7 1256.9L736.7 1254.1L736.1 1251.5L735 1249L733.3 1246.9L732.7 1235.9L734.4 1234.6L735.7 1232.9L736.7 1230.9L737.1 1228.8L737.1 1226.6L736.6 1224.5L735.7 1222.6L734.3 1220.9L730.6 1210.4L732.8 1208.7L734.5 1206.5L735.7 1204L736.3 1201.3L736.3 1198.5L735.7 1195.8L734.4 1193.3L732.6 1191.2L732.1 1181L734 1179.4L735.6 1177.5L736.6 1175.3L737.1 1172.9L737.1 1170.5L736.5 1168.1L735.5 1165.9L733.9 1164L731.6 1151.4L733.3 1150.1L734.6 1148.4L735.5 1146.5L735.9 1144.5L735.9 1142.4L735.4 1140.3L734.5 1138.4L733.2 1136.8L731.4 1124.1L734 1121.9L735.8 1118.9L736.6 1115.6L736.3 1112.2L735 1109L732.9 1106.4L730 1104.5L726.7 1103.7L726.7 1103.7L725.5 1103.5L723.9 1103.4L721.9 1103.2L720 1103L718.1 1102.8L716.7 1102.6L715.8 1102.5L715.2 1102.3L714.8 1102.2L714.4 1102L713.7 1101.8L712.7 1101.5L711.3 1101.1L709.6 1100.7L707.7 1100.2L705.7 1099.7L703.6 1099.2L701.5 1098.6L699.3 1098L697 1097.4L694.6 1096.7L692.2 1096L689.8 1095.2L687.4 1094.4L685 1093.5L682.7 1092.5L680.3 1091.5L677.9 1090.4L675.6 1089.3L673.2 1088L670.8 1086.7L668.5 1085.2L666.1 1083.7L663.8 1082.1L661.5 1080.5L659.1 1078.8L656.7 1077.1L654.4 1075.3L652 1073.5L649.6 1071.7L647.3 1069.7L644.9 1067.5L642.5 1065.2L640.1 1062.7L637.7 1060.1L635.3 1057.5L633 1054.7L630.8 1051.9L628.7 1049L626.6 1045.9L624.7 1042.8L622.8 1039.6L621 1036.5L619.4 1033.5L618 1030.6L616.7 1027.6L615.5 1024.7L614.4 1021.9L613.4 1019.1L612.4 1016.5L611.4 1014L610.5 1011.7L609.7 1009.5L608.9 1007.2L608.1 1004.9L607.4 1002.4L606.7 999.7L606 996.8L605.4 993.8L604.8 990.8L604.3 988L603.9 985.4L603.6 982.9L603.3 980.5L603.1 978.2L602.9 976.2L602.8 974.5L602.7 973.2L602.7 973.2A14.0 14.0 0 0 0 574.7 973.2Z" fill="#fff" stroke="none"/>
<path d="M574.7 973.2C574.5 975.2 574.3 980.5 573.5 985.4C572.7 990.3 571.4 997.2 570 1002.4C568.6 1007.6 567 1011.3 565 1016.5C563 1021.7 561.1 1027.6 558 1033.5C554.9 1039.4 550.9 1046.2 546.6 1051.9C542.4 1057.6 537.2 1063 532.5 1067.5C527.8 1072 523 1075.4 518.3 1078.8C513.6 1082.2 508.9 1085.4 504.2 1088C499.5 1090.6 494.7 1092.6 490 1094.4C485.3 1096.2 480.1 1097.4 475.9 1098.6C471.7 1099.8 467.2 1100.8 464.7 1101.5C462.2 1102.2 463 1102.3 460.7 1102.6C458.4 1103 452.4 1103.5 450.7 1103.7C444.6 1104.3 440.2 1109.8 440.9 1115.9C441.5 1122 447 1126.4 453.1 1125.7C534.8 1117.2 557.5 1074.3 577.7 1018.7M577.7 1018.7C578 1020.9 578.2 1023 578.5 1025.2C558.3 1080.7 533.6 1125.4 449.7 1134.3C444.6 1134.8 440.9 1139.4 441.5 1144.5C442 1149.6 446.6 1153.3 451.7 1152.7C531.3 1144.4 558 1108.2 577.7 1054M577.7 1054C578 1056.2 578.2 1058.3 578.5 1060.5C559 1114.2 531.1 1152.5 449.9 1161.1C443.9 1161.7 439.6 1167 440.3 1172.9C440.9 1178.9 446.2 1183.2 452.1 1182.5C530.6 1174.3 558.3 1140.4 577.7 1087M577.7 1087C578 1089.2 578.2 1091.3 578.5 1093.5C559.6 1145.4 530.5 1179.5 452 1187.8C445.3 1188.5 440.4 1194.5 441.1 1201.3C441.8 1208 447.8 1212.9 454.6 1212.2C531.8 1204.1 558.6 1170.2 577.7 1117.7M577.7 1117.7C578 1119.9 578.2 1122 578.5 1124.2C559.3 1176.9 528.5 1209.9 448.8 1218.3C443.5 1218.8 439.7 1223.5 440.3 1228.8C440.8 1234.1 445.5 1237.9 450.8 1237.3C528.9 1228.5 558.4 1197.9 577.7 1144.7M577.7 1144.7C578 1146.9 578.2 1149 578.5 1151.2C559.7 1202.9 529.3 1234.6 451.1 1243.5C444.6 1244.3 439.9 1250.3 440.7 1256.9C441.5 1263.4 447.5 1268.1 454.1 1267.3C530 1256.6 558.8 1228.5 577.7 1176.6M577.7 1176.6C578 1178.8 578.2 1180.9 578.5 1183.1C559.8 1234.5 528.5 1262.8 451.2 1273.6C445.6 1274.5 441.8 1279.7 442.7 1285.3C443.6 1290.9 448.8 1294.7 454.4 1293.8C528.7 1279.7 559.1 1257.2 577.7 1206M577.7 1206C578 1208.2 578.2 1210.3 578.5 1212.5C560.6 1261.5 529.7 1284.3 456.4 1298.2C450.1 1299.6 446.1 1305.9 447.5 1312.3C448.9 1318.6 455.2 1322.6 461.6 1321.2C531 1302.9 560 1285.4 577.7 1236.8M577.7 1236.8C578 1239 578.2 1241.1 578.5 1243.3C561.5 1290 531.4 1307.4 462.7 1325.5C456.4 1327.5 452.8 1334.2 454.7 1340.5C456.7 1346.8 463.4 1350.4 469.7 1348.5C533.2 1325 561 1312.7 577.7 1266.9M577.7 1266.9C578 1269.1 578.2 1271.2 578.5 1273.4C562.5 1317.3 534 1329.9 471.5 1353.1C465.1 1355.8 462.2 1363.3 465 1369.6C467.7 1376 475.2 1378.9 481.5 1376.1C536.5 1346.6 562.3 1338.8 577.7 1296.6M577.7 1296.6C578 1298.8 578.2 1300.9 578.5 1303.1C563.9 1343.3 537.5 1351.3 483.6 1380.3C478.2 1383.8 476.6 1391.2 480.2 1396.7C483.7 1402.1 491.1 1403.7 496.6 1400.1C538.5 1365.3 564.3 1364.2 577.7 1327.3M577.7 1327.3C578 1329.5 578.2 1331.6 578.5 1333.8C565.8 1368.7 539.6 1370 498.7 1404C494 1409 494.2 1416.9 499.2 1421.7C504.2 1426.4 512.1 1426.2 516.9 1421.2C545.6 1387.8 566.8 1387.2 577.7 1357.4M577.7 1357.4C578 1359.6 578.2 1361.7 578.5 1363.9C568.4 1391.6 549.6 1394.6 522.2 1426.5C517.7 1432.2 518.7 1440.3 524.4 1444.7C530.1 1449.2 538.2 1448.2 542.6 1442.5C559 1414.3 569.7 1409.6 577.7 1387.5M577.7 1387.5C578 1389.7 578.2 1391.8 578.5 1394C571.1 1414.4 562.3 1420.4 546.8 1447.2C544.5 1453.1 547.3 1459.8 553.2 1462.2C558.5 1464.3 565.7 1463.1 567.5 1458.4C570.5 1450.4 577.7 1441 577.7 1432M446 1124.1Q446.3 1130.3 444.2 1136.8M445.8 1151.4Q445.8 1157.6 443.5 1164M445.3 1181Q446.2 1185.9 444.8 1191.2M446.8 1210.4Q446.2 1215.5 443.1 1220.9M444.7 1235.9Q445.6 1241.3 444.1 1246.9M446.4 1265.7Q447.1 1271 445.3 1276.7M447.9 1292.6Q450.1 1297.2 449.9 1302.2M453.9 1320.4Q456.3 1324.9 456.4 1330.1M461.9 1348.2Q464.8 1353 465.4 1358.6M473.4 1376.8Q477.2 1381 478.9 1386.3M489.1 1402Q493.1 1405.9 495.4 1411.4M509.6 1425Q515.3 1428.8 519.4 1434.5M535.5 1447.1Q541.6 1449.9 546.4 1454.7M567.5 1458.4C568.5 1458.5 571.6 1458.4 573.5 1459.2C575.4 1460 577 1461.7 578.6 1463.4C580.2 1465.1 581.7 1468 583.4 1469.3C585.1 1470.6 587.8 1470.7 588.7 1471M577.7 1432V1461.5M602.7 973.2C602.9 975.2 603.1 980.5 603.9 985.4C604.7 990.3 606 997.2 607.4 1002.4C608.8 1007.6 610.4 1011.3 612.4 1016.5C614.4 1021.7 616.3 1027.6 619.4 1033.5C622.5 1039.4 626.6 1046.2 630.8 1051.9C635.1 1057.6 640.2 1063 644.9 1067.5C649.6 1072 654.4 1075.4 659.1 1078.8C663.8 1082.2 668.5 1085.4 673.2 1088C677.9 1090.6 682.7 1092.6 687.4 1094.4C692.1 1096.2 697.3 1097.4 701.5 1098.6C705.7 1099.8 710.2 1100.8 712.7 1101.5C715.2 1102.2 714.4 1102.3 716.7 1102.6C719 1103 725 1103.5 726.7 1103.7C732.8 1104.3 737.2 1109.8 736.5 1115.9C735.9 1122 730.4 1126.4 724.3 1125.7C642.6 1117.2 619.9 1074.3 599.7 1018.7M599.7 1018.7C599.4 1020.9 599.2 1023 598.9 1025.2C619.1 1080.7 643.8 1125.4 727.7 1134.3C732.8 1134.8 736.5 1139.4 735.9 1144.5C735.4 1149.6 730.8 1153.3 725.7 1152.7C646.1 1144.4 619.4 1108.2 599.7 1054M599.7 1054C599.4 1056.2 599.2 1058.3 598.9 1060.5C618.4 1114.2 646.3 1152.5 727.5 1161.1C733.5 1161.7 737.8 1167 737.1 1172.9C736.5 1178.9 731.2 1183.2 725.3 1182.5C646.8 1174.3 619.1 1140.4 599.7 1087M599.7 1087C599.4 1089.2 599.2 1091.3 598.9 1093.5C617.8 1145.4 646.9 1179.5 725.4 1187.8C732.1 1188.5 737 1194.5 736.3 1201.3C735.6 1208 729.6 1212.9 722.8 1212.2C645.6 1204.1 618.8 1170.2 599.7 1117.7M599.7 1117.7C599.4 1119.9 599.2 1122 598.9 1124.2C618.1 1176.9 648.9 1209.9 728.6 1218.3C733.9 1218.8 737.7 1223.5 737.1 1228.8C736.6 1234.1 731.9 1237.9 726.6 1237.3C648.5 1228.5 619 1197.9 599.7 1144.7M599.7 1144.7C599.4 1146.9 599.2 1149 598.9 1151.2C617.7 1202.9 648.1 1234.6 726.3 1243.5C732.8 1244.3 737.5 1250.3 736.7 1256.9C735.9 1263.4 729.9 1268.1 723.3 1267.3C647.4 1256.6 618.6 1228.5 599.7 1176.6M599.7 1176.6C599.4 1178.8 599.2 1180.9 598.9 1183.1C617.6 1234.5 648.9 1262.8 726.2 1273.6C731.8 1274.5 735.6 1279.7 734.7 1285.3C733.8 1290.9 728.6 1294.7 723 1293.8C648.7 1279.7 618.3 1257.2 599.7 1206M599.7 1206C599.4 1208.2 599.2 1210.3 598.9 1212.5C616.8 1261.5 647.7 1284.3 721 1298.2C727.3 1299.6 731.3 1305.9 729.9 1312.3C728.5 1318.6 722.2 1322.6 715.8 1321.2C646.4 1302.9 617.4 1285.4 599.7 1236.8M599.7 1236.8C599.4 1239 599.2 1241.1 598.9 1243.3C615.9 1290 646 1307.4 714.7 1325.5C721 1327.5 724.6 1334.2 722.7 1340.5C720.7 1346.8 714 1350.4 707.7 1348.5C644.2 1325 616.4 1312.7 599.7 1266.9M599.7 1266.9C599.4 1269.1 599.2 1271.2 598.9 1273.4C614.9 1317.3 643.4 1329.9 705.9 1353.1C712.3 1355.8 715.2 1363.3 712.4 1369.6C709.7 1376 702.2 1378.9 695.9 1376.1C640.9 1346.6 615.1 1338.8 599.7 1296.6M599.7 1296.6C599.4 1298.8 599.2 1300.9 598.9 1303.1C613.5 1343.3 639.9 1351.3 693.8 1380.3C699.2 1383.8 700.8 1391.2 697.2 1396.7C693.7 1402.1 686.3 1403.7 680.8 1400.1C638.9 1365.3 613.1 1364.2 599.7 1327.3M599.7 1327.3C599.4 1329.5 599.2 1331.6 598.9 1333.8C611.6 1368.7 637.8 1370 678.7 1404C683.4 1409 683.2 1416.9 678.2 1421.7C673.2 1426.4 665.3 1426.2 660.5 1421.2C631.8 1387.8 610.6 1387.2 599.7 1357.4M599.7 1357.4C599.4 1359.6 599.2 1361.7 598.9 1363.9C609 1391.6 627.8 1394.6 655.2 1426.5C659.7 1432.2 658.7 1440.3 653 1444.7C647.3 1449.2 639.2 1448.2 634.8 1442.5C618.4 1414.3 607.7 1409.6 599.7 1387.5M599.7 1387.5C599.4 1389.7 599.2 1391.8 598.9 1394C606.3 1414.4 615.1 1420.4 630.6 1447.2C632.9 1453.1 630.1 1459.8 624.2 1462.2C618.9 1464.3 611.7 1463.1 609.9 1458.4C606.9 1450.4 599.7 1441 599.7 1432M731.4 1124.1Q731.1 1130.3 733.2 1136.8M731.6 1151.4Q731.6 1157.6 733.9 1164M732.1 1181Q731.2 1185.9 732.6 1191.2M730.6 1210.4Q731.2 1215.5 734.3 1220.9M732.7 1235.9Q731.8 1241.3 733.3 1246.9M731 1265.7Q730.3 1271 732.1 1276.7M729.5 1292.6Q727.3 1297.2 727.5 1302.2M723.5 1320.4Q721.1 1324.9 721 1330.1M715.5 1348.2Q712.6 1353 712 1358.6M704 1376.8Q700.2 1381 698.5 1386.3M688.3 1402Q684.3 1405.9 682 1411.4M667.8 1425Q662.1 1428.8 658 1434.5M641.9 1447.1Q635.8 1449.9 631 1454.7M609.9 1458.4C608.9 1458.5 605.8 1458.4 603.9 1459.2C602.1 1460 600.5 1461.7 598.8 1463.4C597.2 1465.1 595.7 1468 594 1469.3C592.3 1470.6 589.6 1470.7 588.7 1471M599.7 1432V1461.5M574.7 973.2V973.2A14.0 14.0 0 0 1 602.7 973.2V973.2M588.7 959.2V1471" fill="none"/>
<path d="M892.3 973.2L892.3 973.2L892.2 974.5L892.1 976.2L891.9 978.2L891.7 980.5L891.4 982.9L891.1 985.4L890.7 988L890.2 990.8L889.6 993.8L889 996.8L888.3 999.7L887.6 1002.4L886.9 1004.9L886.1 1007.2L885.3 1009.5L884.5 1011.7L883.6 1014L882.6 1016.5L881.6 1019.1L880.6 1021.9L879.5 1024.7L878.3 1027.6L877 1030.6L875.6 1033.5L874 1036.5L872.2 1039.6L870.3 1042.8L868.4 1045.9L866.3 1049L864.2 1051.9L862 1054.7L859.7 1057.5L857.3 1060.1L854.9 1062.7L852.5 1065.2L850.1 1067.5L847.7 1069.7L845.4 1071.7L843 1073.5L840.6 1075.3L838.3 1077.1L835.9 1078.8L833.5 1080.5L831.2 1082.1L828.9 1083.7L826.5 1085.2L824.2 1086.7L821.8 1088L819.4 1089.3L817.1 1090.4L814.7 1091.5L812.3 1092.5L810 1093.5L807.6 1094.4L805.2 1095.2L802.8 1096L800.4 1096.7L798 1097.4L795.7 1098L793.5 1098.6L791.4 1099.2L789.3 1099.7L787.3 1100.2L785.4 1100.7L783.7 1101.1L782.3 1101.5L781.3 1101.8L780.6 1102L780.2 1102.2L779.8 1102.3L779.2 1102.5L778.3 1102.6L776.9 1102.8L775 1103L773.1 1103.2L771.1 1103.4L769.5 1103.5L768.3 1103.7L768.3 1103.7L765 1104.5L762.1 1106.4L760 1109L758.7 1112.2L758.4 1115.6L759.2 1118.9L761 1121.9L763.6 1124.1L761.8 1136.8L760.5 1138.4L759.6 1140.3L759.1 1142.4L759.1 1144.5L759.5 1146.5L760.4 1148.4L761.7 1150.1L763.4 1151.4L761.1 1164L759.5 1165.9L758.5 1168.1L757.9 1170.5L757.9 1172.9L758.4 1175.3L759.4 1177.5L761 1179.4L762.9 1181L762.4 1191.2L760.6 1193.3L759.3 1195.8L758.7 1198.5L758.7 1201.3L759.3 1204L760.5 1206.5L762.2 1208.7L764.4 1210.4L760.7 1220.9L759.3 1222.6L758.4 1224.5L757.9 1226.6L757.9 1228.8L758.3 1230.9L759.3 1232.9L760.6 1234.6L762.3 1235.9L761.7 1246.9L760 1249L758.9 1251.5L758.3 1254.1L758.3 1256.9L758.9 1259.5L760.1 1261.9L761.9 1264L764 1265.7L762.9 1276.7L761.6 1278.6L760.6 1280.7L760.2 1283L760.3 1285.3L760.9 1287.5L762 1289.6L763.6 1291.3L765.5 1292.6L767.5 1302.2L766 1304.4L765.1 1306.9L764.8 1309.6L765.1 1312.3L765.9 1314.8L767.4 1317L769.3 1318.9L771.5 1320.4L774 1330.1L772.7 1332.5L771.9 1335.1L771.8 1337.8L772.3 1340.5L773.4 1343L775 1345.2L777.1 1346.9L779.5 1348.2L783 1358.6L782 1361.3L781.5 1364.1L781.7 1366.9L782.6 1369.6L784 1372.1L785.9 1374.2L788.3 1375.8L791 1376.8L796.5 1386.3L795.9 1389L795.9 1391.6L796.6 1394.3L797.8 1396.7L799.5 1398.7L801.6 1400.4L804 1401.5L806.7 1402L813 1411.4L813 1414.2L813.7 1417L815 1419.5L816.8 1421.7L819.1 1423.4L821.6 1424.5L824.4 1425.1L827.2 1425L837 1434.5L837.3 1437.4L838.3 1440.2L839.9 1442.7L842 1444.7L844.5 1446.3L847.3 1447.2L850.2 1447.5L853.1 1447.1L864 1454.7L865.3 1457.6L867.4 1460L870 1461.8L873 1462.8L876.2 1462.9L879.3 1462.2L882 1460.7L884.3 1458.4L885.1 1458.4L885.1 1458.4L886.2 1458.5L887.8 1458.5L889.5 1458.7L891.1 1459.2L892.4 1460L893.7 1461L895 1462.2L896.2 1463.4L897.4 1464.9L898.6 1466.5L899.8 1468.1L901 1469.3L902.4 1470.1L903.9 1470.5L905.3 1470.8L906.3 1471L906.3 1471L907.3 1470.8L908.6 1470.5L910.2 1470.1L911.6 1469.3L912.8 1468.1L914 1466.5L915.2 1464.9L916.4 1463.4L917.6 1462.2L918.9 1461L920.2 1460L921.5 1459.2L923.1 1458.7L924.8 1458.5L926.4 1458.5L927.5 1458.4L927.5 1458.4L928.3 1458.4L930.6 1460.7L933.3 1462.2L936.4 1462.9L939.6 1462.8L942.6 1461.8L945.2 1460L947.3 1457.6L948.6 1454.7L959.5 1447.1L962.4 1447.5L965.3 1447.2L968.1 1446.3L970.6 1444.7L972.7 1442.7L974.3 1440.2L975.3 1437.4L975.6 1434.5L985.4 1425L988.2 1425.1L991 1424.5L993.5 1423.4L995.8 1421.7L997.6 1419.5L998.9 1417L999.6 1414.2L999.6 1411.4L1005.9 1402L1008.6 1401.5L1011 1400.4L1013.1 1398.7L1014.8 1396.7L1016 1394.3L1016.7 1391.6L1016.7 1389L1016.1 1386.3L1021.6 1376.8L1024.3 1375.8L1026.7 1374.2L1028.6 1372.1L1030 1369.6L1030.9 1366.9L1031.1 1364.1L1030.6 1361.3L1029.6 1358.6L1033.1 1348.2L1035.5 1346.9L1037.6 1345.2L1039.2 1343L1040.3 1340.5L1040.8 1337.8L1040.7 1335.1L1039.9 1332.5L1038.6 1330.1L1041.1 1320.4L1043.3 1318.9L1045.2 1317L1046.7 1314.8L1047.5 1312.3L1047.8 1309.6L1047.5 1306.9L1046.6 1304.4L1045.1 1302.2L1047.1 1292.6L1049 1291.3L1050.6 1289.6L1051.7 1287.5L1052.3 1285.3L1052.4 1283L1052 1280.7L1051 1278.6L1049.7 1276.7L1048.6 1265.7L1050.7 1264L1052.5 1261.9L1053.7 1259.5L1054.3 1256.9L1054.3 1254.1L1053.7 1251.5L1052.6 1249L1050.9 1246.9L1050.3 1235.9L1052 1234.6L1053.3 1232.9L1054.3 1230.9L1054.7 1228.8L1054.7 1226.6L1054.2 1224.5L1053.3 1222.6L1051.9 1220.9L1048.2 1210.4L1050.4 1208.7L1052.1 1206.5L1053.3 1204L1053.9 1201.3L1053.9 1198.5L1053.3 1195.8L1052 1193.3L1050.2 1191.2L1049.7 1181L1051.6 1179.4L1053.2 1177.5L1054.2 1175.3L1054.7 1172.9L1054.7 1170.5L1054.1 1168.1L1053.1 1165.9L1051.5 1164L1049.2 1151.4L1050.9 1150.1L1052.2 1148.4L1053.1 1146.5L1053.5 1144.5L1053.5 1142.4L1053 1140.3L1052.1 1138.4L1050.8 1136.8L1049 1124.1L1051.6 1121.9L1053.4 1118.9L1054.2 1115.6L1053.9 1112.2L1052.6 1109L1050.5 1106.4L1047.6 1104.5L1044.3 1103.7L1044.3 1103.7L1043.1 1103.5L1041.5 1103.4L1039.5 1103.2L1037.6 1103L1035.7 1102.8L1034.3 1102.6L1033.4 1102.5L1032.8 1102.3L1032.4 1102.2L1032 1102L1031.3 1101.8L1030.3 1101.5L1028.9 1101.1L1027.2 1100.7L1025.3 1100.2L1023.3 1099.7L1021.2 1099.2L1019.1 1098.6L1016.9 1098L1014.6 1097.4L1012.2 1096.7L1009.8 1096L1007.4 1095.2L1005 1094.4L1002.6 1093.5L1000.3 1092.5L997.9 1091.5L995.5 1090.4L993.2 1089.3L990.8 1088L988.4 1086.7L986.1 1085.2L983.8 1083.7L981.4 1082.1L979.1 1080.5L976.7 1078.8L974.3 1077.1L972 1075.3L969.6 1073.5L967.2 1071.7L964.9 1069.7L962.5 1067.5L960.1 1065.2L957.7 1062.7L955.3 1060.1L952.9 1057.5L950.6 1054.7L948.4 1051.9L946.3 1049L944.2 1045.9L942.3 1042.8L940.4 1039.6L938.6 1036.5L937 1033.5L935.6 1030.6L934.3 1027.6L933.1 1024.7L932 1021.9L931 1019.1L930 1016.5L929 1014L928.1 1011.7L927.3 1009.5L926.5 1007.2L925.7 1004.9L925 1002.4L924.3 999.7L923.6 996.8L923 993.8L922.4 990.8L921.9 988L921.5 985.4L921.2 982.9L920.9 980.5L920.7 978.2L920.5 976.2L920.4 974.5L920.3 973.2L920.3 973.2A14.0 14.0 0 0 0 892.3 973.2Z" fill="#fff" stroke="none"/>
<path d="M892.3 973.2C892.1 975.2 891.9 980.5 891.1 985.4C890.3 990.3 889 997.2 887.6 1002.4C886.2 1007.6 884.6 1011.3 882.6 1016.5C880.6 1021.7 878.7 1027.6 875.6 1033.5C872.5 1039.4 868.4 1046.2 864.2 1051.9C859.9 1057.6 854.8 1063 850.1 1067.5C845.4 1072 840.6 1075.4 835.9 1078.8C831.2 1082.2 826.5 1085.4 821.8 1088C817.1 1090.6 812.3 1092.6 807.6 1094.4C802.9 1096.2 797.7 1097.4 793.5 1098.6C789.3 1099.8 784.8 1100.8 782.3 1101.5C779.8 1102.2 780.6 1102.3 778.3 1102.6C776 1103 770 1103.5 768.3 1103.7C762.2 1104.3 757.8 1109.8 758.5 1115.9C759.1 1122 764.6 1126.4 770.7 1125.7C852.4 1117.2 875.1 1074.3 895.3 1018.7M895.3 1018.7C895.6 1020.9 895.8 1023 896.1 1025.2C875.9 1080.7 851.2 1125.4 767.3 1134.3C762.2 1134.8 758.5 1139.4 759.1 1144.5C759.6 1149.6 764.2 1153.3 769.3 1152.7C848.9 1144.4 875.6 1108.2 895.3 1054M895.3 1054C895.6 1056.2 895.8 1058.3 896.1 1060.5C876.6 1114.2 848.7 1152.5 767.5 1161.1C761.5 1161.7 757.2 1167 757.9 1172.9C758.5 1178.9 763.8 1183.2 769.7 1182.5C848.2 1174.3 875.9 1140.4 895.3 1087M895.3 1087C895.6 1089.2 895.8 1091.3 896.1 1093.5C877.2 1145.4 848.1 1179.5 769.6 1187.8C762.9 1188.5 758 1194.5 758.7 1201.3C759.4 1208 765.4 1212.9 772.2 1212.2C849.4 1204.1 876.2 1170.2 895.3 1117.7M895.3 1117.7C895.6 1119.9 895.8 1122 896.1 1124.2C876.9 1176.9 846.1 1209.9 766.4 1218.3C761.1 1218.8 757.3 1223.5 757.9 1228.8C758.4 1234.1 763.1 1237.9 768.4 1237.3C846.5 1228.5 876 1197.9 895.3 1144.7M895.3 1144.7C895.6 1146.9 895.8 1149 896.1 1151.2C877.3 1202.9 846.9 1234.6 768.7 1243.5C762.2 1244.3 757.5 1250.3 758.3 1256.9C759.1 1263.4 765.1 1268.1 771.7 1267.3C847.6 1256.6 876.4 1228.5 895.3 1176.6M895.3 1176.6C895.6 1178.8 895.8 1180.9 896.1 1183.1C877.4 1234.5 846.1 1262.8 768.8 1273.6C763.2 1274.5 759.4 1279.7 760.3 1285.3C761.2 1290.9 766.4 1294.7 772 1293.8C846.3 1279.7 876.7 1257.2 895.3 1206M895.3 1206C895.6 1208.2 895.8 1210.3 896.1 1212.5C878.2 1261.5 847.3 1284.3 774 1298.2C767.7 1299.6 763.7 1305.9 765.1 1312.3C766.5 1318.6 772.8 1322.6 779.2 1321.2C848.6 1302.9 877.6 1285.4 895.3 1236.8M895.3 1236.8C895.6 1239 895.8 1241.1 896.1 1243.3C879.1 1290 849 1307.4 780.3 1325.5C774 1327.5 770.4 1334.2 772.3 1340.5C774.3 1346.8 781 1350.4 787.3 1348.5C850.8 1325 878.6 1312.7 895.3 1266.9M895.3 1266.9C895.6 1269.1 895.8 1271.2 896.1 1273.4C880.1 1317.3 851.6 1329.9 789.1 1353.1C782.7 1355.8 779.8 1363.3 782.6 1369.6C785.3 1376 792.8 1378.9 799.1 1376.1C854.1 1346.6 879.9 1338.8 895.3 1296.6M895.3 1296.6C895.6 1298.8 895.8 1300.9 896.1 1303.1C881.5 1343.3 855.1 1351.3 801.2 1380.3C795.8 1383.8 794.2 1391.2 797.8 1396.7C801.3 1402.1 808.7 1403.7 814.2 1400.1C856.1 1365.3 881.9 1364.2 895.3 1327.3M895.3 1327.3C895.6 1329.5 895.8 1331.6 896.1 1333.8C883.4 1368.7 857.2 1370 816.3 1404C811.6 1409 811.8 1416.9 816.8 1421.7C821.8 1426.4 829.7 1426.2 834.5 1421.2C863.2 1387.8 884.4 1387.2 895.3 1357.4M895.3 1357.4C895.6 1359.6 895.8 1361.7 896.1 1363.9C886 1391.6 867.2 1394.6 839.8 1426.5C835.3 1432.2 836.3 1440.3 842 1444.7C847.7 1449.2 855.8 1448.2 860.2 1442.5C876.6 1414.3 887.3 1409.6 895.3 1387.5M895.3 1387.5C895.6 1389.7 895.8 1391.8 896.1 1394C888.7 1414.4 879.9 1420.4 864.4 1447.2C862.1 1453.1 864.9 1459.8 870.8 1462.2C876.1 1464.3 883.3 1463.1 885.1 1458.4C888.1 1450.4 895.3 1441 895.3 1432M763.6 1124.1Q763.9 1130.3 761.8 1136.8M763.4 1151.4Q763.4 1157.6 761.1 1164M762.9 1181Q763.8 1185.9 762.4 1191.2M764.4 1210.4Q763.8 1215.5 760.7 1220.9M762.3 1235.9Q763.2 1241.3 761.7 1246.9M764 1265.7Q764.7 1271 762.9 1276.7M765.5 1292.6Q767.7 1297.2 767.5 1302.2M771.5 1320.4Q773.9 1324.9 774 1330.1M779.5 1348.2Q782.4 1353 783 1358.6M791 1376.8Q794.8 1381 796.5 1386.3M806.7 1402Q810.7 1405.9 813 1411.4M827.2 1425Q832.9 1428.8 837 1434.5M853.1 1447.1Q859.2 1449.9 864 1454.7M885.1 1458.4C886.1 1458.5 889.2 1458.4 891.1 1459.2C892.9 1460 894.5 1461.7 896.2 1463.4C897.8 1465.1 899.3 1468 901 1469.3C902.7 1470.6 905.4 1470.7 906.3 1471M895.3 1432V1461.5M920.3 973.2C920.5 975.2 920.7 980.5 921.5 985.4C922.3 990.3 923.6 997.2 925 1002.4C926.4 1007.6 928 1011.3 930 1016.5C932 1021.7 933.9 1027.6 937 1033.5C940.1 1039.4 944.1 1046.2 948.4 1051.9C952.6 1057.6 957.8 1063 962.5 1067.5C967.2 1072 972 1075.4 976.7 1078.8C981.4 1082.2 986.1 1085.4 990.8 1088C995.5 1090.6 1000.3 1092.6 1005 1094.4C1009.7 1096.2 1014.9 1097.4 1019.1 1098.6C1023.3 1099.8 1027.8 1100.8 1030.3 1101.5C1032.8 1102.2 1032 1102.3 1034.3 1102.6C1036.6 1103 1042.6 1103.5 1044.3 1103.7C1050.4 1104.3 1054.8 1109.8 1054.1 1115.9C1053.5 1122 1048 1126.4 1041.9 1125.7C960.2 1117.2 937.5 1074.3 917.3 1018.7M917.3 1018.7C917 1020.9 916.8 1023 916.5 1025.2C936.7 1080.7 961.4 1125.4 1045.3 1134.3C1050.4 1134.8 1054.1 1139.4 1053.5 1144.5C1053 1149.6 1048.4 1153.3 1043.3 1152.7C963.7 1144.4 937 1108.2 917.3 1054M917.3 1054C917 1056.2 916.8 1058.3 916.5 1060.5C936 1114.2 963.9 1152.5 1045.1 1161.1C1051.1 1161.7 1055.4 1167 1054.7 1172.9C1054.1 1178.9 1048.8 1183.2 1042.9 1182.5C964.4 1174.3 936.7 1140.4 917.3 1087M917.3 1087C917 1089.2 916.8 1091.3 916.5 1093.5C935.4 1145.4 964.5 1179.5 1043 1187.8C1049.7 1188.5 1054.6 1194.5 1053.9 1201.3C1053.2 1208 1047.2 1212.9 1040.4 1212.2C963.2 1204.1 936.4 1170.2 917.3 1117.7M917.3 1117.7C917 1119.9 916.8 1122 916.5 1124.2C935.7 1176.9 966.5 1209.9 1046.2 1218.3C1051.5 1218.8 1055.3 1223.5 1054.7 1228.8C1054.2 1234.1 1049.5 1237.9 1044.2 1237.3C966.1 1228.5 936.6 1197.9 917.3 1144.7M917.3 1144.7C917 1146.9 916.8 1149 916.5 1151.2C935.3 1202.9 965.7 1234.6 1043.9 1243.5C1050.4 1244.3 1055.1 1250.3 1054.3 1256.9C1053.5 1263.4 1047.5 1268.1 1040.9 1267.3C965 1256.6 936.2 1228.5 917.3 1176.6M917.3 1176.6C917 1178.8 916.8 1180.9 916.5 1183.1C935.2 1234.5 966.5 1262.8 1043.8 1273.6C1049.4 1274.5 1053.2 1279.7 1052.3 1285.3C1051.4 1290.9 1046.2 1294.7 1040.6 1293.8C966.3 1279.7 935.9 1257.2 917.3 1206M917.3 1206C917 1208.2 916.8 1210.3 916.5 1212.5C934.4 1261.5 965.3 1284.3 1038.6 1298.2C1044.9 1299.6 1048.9 1305.9 1047.5 1312.3C1046.1 1318.6 1039.8 1322.6 1033.4 1321.2C964 1302.9 935 1285.4 917.3 1236.8M917.3 1236.8C917 1239 916.8 1241.1 916.5 1243.3C933.5 1290 963.6 1307.4 1032.3 1325.5C1038.6 1327.5 1042.2 1334.2 1040.3 1340.5C1038.3 1346.8 1031.6 1350.4 1025.3 1348.5C961.8 1325 934 1312.7 917.3 1266.9M917.3 1266.9C917 1269.1 916.8 1271.2 916.5 1273.4C932.5 1317.3 961 1329.9 1023.5 1353.1C1029.9 1355.8 1032.8 1363.3 1030 1369.6C1027.3 1376 1019.8 1378.9 1013.5 1376.1C958.5 1346.6 932.7 1338.8 917.3 1296.6M917.3 1296.6C917 1298.8 916.8 1300.9 916.5 1303.1C931.1 1343.3 957.5 1351.3 1011.4 1380.3C1016.8 1383.8 1018.4 1391.2 1014.8 1396.7C1011.3 1402.1 1003.9 1403.7 998.4 1400.1C956.5 1365.3 930.7 1364.2 917.3 1327.3M917.3 1327.3C917 1329.5 916.8 1331.6 916.5 1333.8C929.2 1368.7 955.4 1370 996.3 1404C1001 1409 1000.8 1416.9 995.8 1421.7C990.8 1426.4 982.9 1426.2 978.1 1421.2C949.4 1387.8 928.2 1387.2 917.3 1357.4M917.3 1357.4C917 1359.6 916.8 1361.7 916.5 1363.9C926.6 1391.6 945.4 1394.6 972.8 1426.5C977.3 1432.2 976.3 1440.3 970.6 1444.7C964.9 1449.2 956.8 1448.2 952.4 1442.5C936 1414.3 925.3 1409.6 917.3 1387.5M917.3 1387.5C917 1389.7 916.8 1391.8 916.5 1394C923.9 1414.4 932.7 1420.4 948.2 1447.2C950.5 1453.1 947.7 1459.8 941.8 1462.2C936.5 1464.3 929.3 1463.1 927.5 1458.4C924.5 1450.4 917.3 1441 917.3 1432M1049 1124.1Q1048.7 1130.3 1050.8 1136.8M1049.2 1151.4Q1049.2 1157.6 1051.5 1164M1049.7 1181Q1048.8 1185.9 1050.2 1191.2M1048.2 1210.4Q1048.8 1215.5 1051.9 1220.9M1050.3 1235.9Q1049.4 1241.3 1050.9 1246.9M1048.6 1265.7Q1047.9 1271 1049.7 1276.7M1047.1 1292.6Q1044.9 1297.2 1045.1 1302.2M1041.1 1320.4Q1038.7 1324.9 1038.6 1330.1M1033.1 1348.2Q1030.2 1353 1029.6 1358.6M1021.6 1376.8Q1017.8 1381 1016.1 1386.3M1005.9 1402Q1001.9 1405.9 999.6 1411.4M985.4 1425Q979.7 1428.8 975.6 1434.5M959.5 1447.1Q953.4 1449.9 948.6 1454.7M927.5 1458.4C926.5 1458.5 923.4 1458.4 921.5 1459.2C919.6 1460 918 1461.7 916.4 1463.4C914.8 1465.1 913.3 1468 911.6 1469.3C909.9 1470.6 907.2 1470.7 906.3 1471M917.3 1432V1461.5M892.3 973.2V973.2A14.0 14.0 0 0 1 920.3 973.2V973.2M906.3 959.2V1471" fill="none"/>
<path d="M355.4 1020.7C357.8 1025.1 365.7 1041 369.7 1047.2C373.7 1053.4 375.6 1055.4 379.6 1058.1C383.7 1060.8 389.4 1062.8 394 1063.1C398.6 1063.4 403.5 1061.8 407.4 1060.1C411.3 1058.4 412.5 1055.7 417.3 1053.2C422.1 1050.7 428.5 1046.5 436.1 1045.2C443.7 1043.9 458.3 1045.2 462.7 1045.2L462.7 1034.1L462.7 1034.1C458.3 1034.1 443 1033.6 436.1 1034.1C429.2 1034.5 425.8 1035.3 421.3 1036.8C416.9 1038.3 412.7 1041.1 409.4 1043.3C406.1 1045.5 404 1048.3 401.4 1049.7C398.8 1051.1 396.5 1051.8 394 1051.7C391.5 1051.6 389 1050.9 386.6 1049.2C384.2 1047.5 383 1046.9 379.6 1041.3C376.2 1035.7 368.3 1020 366 1015.7Z" fill="#fff" stroke-width="2.0"/>
<path d="M355.4 1020.7C357.8 1025.1 365.7 1041 369.7 1047.2C373.7 1053.4 375.6 1055.4 379.6 1058.1C383.7 1060.8 389.4 1062.8 394 1063.1C398.6 1063.4 403.5 1061.8 407.4 1060.1C411.3 1058.4 412.5 1055.7 417.3 1053.2C422.1 1050.7 428.5 1046.5 436.1 1045.2C443.7 1043.9 458.3 1045.2 462.7 1045.2L462.7 1034.1L462.7 1034.1C458.3 1034.1 443 1033.6 436.1 1034.1C429.2 1034.5 425.8 1035.3 421.3 1036.8C416.9 1038.3 412.7 1041.1 409.4 1043.3C406.1 1045.5 404 1048.3 401.4 1049.7C398.8 1051.1 396.5 1051.8 394 1051.7C391.5 1051.6 389 1050.9 386.6 1049.2C384.2 1047.5 383 1046.9 379.6 1041.3C376.2 1035.7 368.3 1020 366 1015.7Z" fill="#fff" stroke-width="2.0" transform="translate(1495,0) scale(-1,1)"/>
<path d="M389.3 977.3H403.4M403.4 977.3V1114L398.4 1461C398.2 1474 389 1485 375 1487.8M393.3 977.3V1446C394.1 1460 386 1473 375 1480.4M389.3 977.3V1029L375 1115V1487.8M393.3 1098Q392.8 1121 375 1134M393.3 1125.8Q392.8 1148.8 375 1161.8M393.3 1153.6Q392.8 1176.6 375 1189.6M393.3 1181.4Q392.8 1204.4 375 1217.4M393.3 1209.2Q392.8 1232.2 375 1245.2M393.3 1237Q392.8 1260 375 1273M393.3 1264.8Q392.8 1287.8 375 1300.8M393.3 1292.6Q392.8 1315.6 375 1328.6M393.3 1320.4Q392.8 1343.4 375 1356.4M393.3 1348.2Q392.8 1371.2 375 1384.2M393.3 1376Q392.8 1399 375 1412M393.3 1403.8Q392.8 1426.8 375 1439.8M393.3 1426.8Q392.8 1449.8 375 1462.8M390 1048H403.2M388 1057.6H403M387.2 1065.8H402.8" fill="none" stroke-width="1.2"/>
<path d="M389.3 977.3H403.4M403.4 977.3V1114L398.4 1461C398.2 1474 389 1485 375 1487.8M393.3 977.3V1446C394.1 1460 386 1473 375 1480.4M389.3 977.3V1029L375 1115V1487.8M393.3 1098Q392.8 1121 375 1134M393.3 1125.8Q392.8 1148.8 375 1161.8M393.3 1153.6Q392.8 1176.6 375 1189.6M393.3 1181.4Q392.8 1204.4 375 1217.4M393.3 1209.2Q392.8 1232.2 375 1245.2M393.3 1237Q392.8 1260 375 1273M393.3 1264.8Q392.8 1287.8 375 1300.8M393.3 1292.6Q392.8 1315.6 375 1328.6M393.3 1320.4Q392.8 1343.4 375 1356.4M393.3 1348.2Q392.8 1371.2 375 1384.2M393.3 1376Q392.8 1399 375 1412M393.3 1403.8Q392.8 1426.8 375 1439.8M393.3 1426.8Q392.8 1449.8 375 1462.8M390 1048H403.2M388 1057.6H403M387.2 1065.8H402.8" fill="none" stroke-width="1.2" transform="translate(1495,0) scale(-1,1)"/>
<path d="M468.6 1028.9H1026.4M468.6 1051.5H1026.4" fill="none" stroke-width="1.6"/>
<path d="M462.7 1028.7V1052H468.6V1028.7ZM462.7 1034.2H468.6M462.7 1046.2H468.6" fill="#fff" stroke-width="1.6"/>
<path d="M462.7 1028.7V1052H468.6V1028.7ZM462.7 1034.2H468.6M462.7 1046.2H468.6" fill="#fff" stroke-width="1.6" transform="translate(1495,0) scale(-1,1)"/>
<path d="M544.8 997.5C545.5 1002.8 547.7 1022.1 549.1 1029.1C550.5 1036.1 551.4 1036.9 553 1039.7C554.6 1042.5 556.6 1044.3 558.9 1046C561.2 1047.7 563.9 1049.2 566.8 1050C569.7 1050.8 573.3 1051.2 576.4 1051.1C579.5 1051 582.8 1050.2 585.4 1049.5C588 1048.8 590.6 1047.7 592.3 1047.1C594 1046.5 594.7 1046.7 595.5 1046C596.3 1045.3 597.1 1044.2 597.1 1042.9C597.1 1041.6 596.4 1039.3 595.5 1038.1C594.6 1036.9 593.1 1036.2 591.8 1035.7C590.5 1035.2 588.8 1035.2 587.5 1035.4C586.2 1035.6 585 1036.1 583.8 1036.7C582.6 1037.3 581.7 1038.6 580.1 1039.1C578.5 1039.6 576.3 1040 574.3 1039.7C572.3 1039.4 569.8 1038.5 567.9 1037.5C566 1036.5 564.3 1035.3 563.1 1033.8C561.9 1032.3 561.2 1031 560.5 1028.5C559.8 1026 559.6 1024.4 558.9 1019C558.1 1013.6 556.5 1000.1 556 996.3Z" fill="#fff" stroke-width="2.05"/>
<path d="M544.8 997.5C545.5 1002.8 547.7 1022.1 549.1 1029.1C550.5 1036.1 551.4 1036.9 553 1039.7C554.6 1042.5 556.6 1044.3 558.9 1046C561.2 1047.7 563.9 1049.2 566.8 1050C569.7 1050.8 573.3 1051.2 576.4 1051.1C579.5 1051 582.8 1050.2 585.4 1049.5C588 1048.8 590.6 1047.7 592.3 1047.1C594 1046.5 594.7 1046.7 595.5 1046C596.3 1045.3 597.1 1044.2 597.1 1042.9C597.1 1041.6 596.4 1039.3 595.5 1038.1C594.6 1036.9 593.1 1036.2 591.8 1035.7C590.5 1035.2 588.8 1035.2 587.5 1035.4C586.2 1035.6 585 1036.1 583.8 1036.7C582.6 1037.3 581.7 1038.6 580.1 1039.1C578.5 1039.6 576.3 1040 574.3 1039.7C572.3 1039.4 569.8 1038.5 567.9 1037.5C566 1036.5 564.3 1035.3 563.1 1033.8C561.9 1032.3 561.2 1031 560.5 1028.5C559.8 1026 559.6 1024.4 558.9 1019C558.1 1013.6 556.5 1000.1 556 996.3Z" fill="#fff" stroke-width="2.05" transform="translate(1495,0) scale(-1,1)"/>
<path d="M606.6 1013.25H888.4V1436.45H606.6Z" fill="none" stroke="#777" stroke-width="1.6"/>
<path d="M605.1 1012H889.9V1437.7H605.1ZM608.1 1014.5H886.9V1435.2H608.1Z" fill="none" stroke-width="1.6"/>
<path d="M729.9 1066H764.9V1100.3H729.9Z" fill="none" stroke-width="1.2"/>
<path d="M767.1 1083.3A19.7 19.7 0 1 0 727.7 1083.3A19.7 19.7 0 1 0 767.1 1083.3M762.6 1083.3A15.2 15.2 0 1 0 732.2 1083.3A15.2 15.2 0 1 0 762.6 1083.3" fill="none" stroke-width="1.5"/>
</g>
<g>
<path d="M605.7 261.7V315.7M889.6 261.7V315.7M605.7 285H889.6" fill="none" stroke="#f00" stroke-width="1.35"/>
<path d="M605.7 285L633.2 280.3L633.2 289.7ZM889.6 285L862.1 289.7L862.1 280.3Z" fill="#f00"/>
<path d="M285 337.5H298.3M285 798.6H298.3M308.3 338V798" fill="none" stroke="#f00" stroke-width="1.35"/>
<path d="M308.3 338.5L313 366L303.6 366ZM308.3 797.8L303.6 770.3L313 770.3Z" fill="#f00"/>
<path d="M355.7 855V893.3M1139.3 855V893.3M355.7 878.6H1139.3" fill="none" stroke="#f00" stroke-width="1.35"/>
<path d="M355.7 878.6L383.2 873.9L383.2 883.3ZM1139.3 878.6L1111.8 883.3L1111.8 873.9Z" fill="#f00"/>
<path d="M207.6 960.5H236.6M207.6 1763.4H236.6M230.7 961V1763" fill="none" stroke="#f00" stroke-width="1.35"/>
<path d="M230.7 961.2L235.4 988.7L226 988.7ZM230.7 1762.9L226 1735.4L235.4 1735.4Z" fill="#f00"/>
</g>
<g font-family="'Liberation Serif','Times New Roman',serif" font-size="64" fill="#000" stroke="#fff" stroke-width="0.9">
<text transform="translate(747.0,270.3) scale(0.927,1)" text-anchor="middle" letter-spacing="1.6">100</text>
<text transform="translate(747.9,863.7) scale(0.927,1)" text-anchor="middle" letter-spacing="1.6">280</text>
<text transform="translate(293.1,569.9) rotate(-90) scale(0.927,1)" text-anchor="middle" letter-spacing="1.6">150</text>
<text transform="translate(216.2,1361.4) rotate(-90) scale(0.927,1)" text-anchor="middle" letter-spacing="1.6">250</text>
</g>
</svg>
</body></html>
